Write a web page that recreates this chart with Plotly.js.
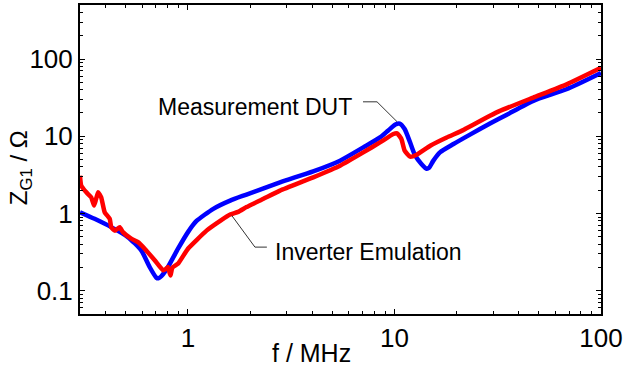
<!DOCTYPE html>
<html>
<head>
<meta charset="utf-8">
<script src="https://cdn.plot.ly/plotly-3.0.1.min.js"></script>
<style>html,body{margin:0;padding:0;background:#fff}#chart{width:626px;height:366px}</style>
</head>
<body>
<div id="chart"></div>
<script>
// Frequency (MHz) and impedance (Ohm)
const fDUT = [0.30, 0.353, 0.425, 0.512, 0.594, 0.652, 0.702, 0.72, 0.743, 0.80, 0.895, 1.0, 1.10, 1.326, 1.60, 1.92, 2.79, 4.04, 5.45, 7.06, 8.51, 9.3, 10.1, 10.6, 11.2, 11.9, 12.6, 13.5, 14.3, 14.7, 15.4, 16.6, 19.3, 23.2, 29.0, 35.0, 47.0, 68.0, 100.0];
const zDUT = [1.04, 0.854, 0.666, 0.494, 0.333, 0.203, 0.148, 0.145, 0.154, 0.203, 0.35, 0.574, 0.80, 1.15, 1.47, 1.76, 2.53, 3.51, 4.83, 7.17, 9.65, 11.8, 14.2, 14.6, 12.4, 8.32, 5.6, 4.38, 3.8, 3.9, 4.8, 6.18, 7.93, 10.5, 14.6, 19.0, 28.7, 40.6, 66.0];

const fEmu = [0.30, 0.304, 0.322, 0.340, 0.351, 0.358, 0.367, 0.380, 0.395, 0.418, 0.425, 0.442, 0.467, 0.484, 0.531, 0.573, 0.617, 0.69, 0.757, 0.78, 0.80, 0.815, 0.824, 0.835, 0.846, 0.895, 1.0, 1.23, 1.45, 1.60, 1.75, 1.92, 2.32, 2.79, 4.04, 5.45, 7.06, 8.51, 9.87, 10.3, 10.8, 11.2, 11.9, 12.8, 14.9, 17.9, 21.5, 29.0, 32.4, 47.0, 68.2, 100.0];
const zEmu = [3.09, 2.30, 1.88, 1.62, 1.27, 1.5, 1.88, 1.62, 1.04, 0.854, 0.666, 0.60, 0.666, 0.574, 0.472, 0.426, 0.35, 0.248, 0.184, 0.19, 0.203, 0.17, 0.158, 0.19, 0.203, 0.224, 0.35, 0.60, 0.82, 0.97, 1.05, 1.21, 1.55, 1.98, 2.94, 4.16, 6.18, 8.32, 10.7, 10.9, 9.2, 6.5, 5.44, 5.77, 7.54, 9.65, 12.0, 18.4, 21.3, 31.7, 47.0, 77.0];

const seriesNames = ["Measurement DUT", "Inverter Emulation"];
const xTitle = "f / MHz";
const yTitle = "Z<sub>G1</sub> / Ω";

// label anchor points (data units) and leader-line points
const labelDUT = {f: 0.70, z: 24};
const leaderDUT = {f: [7.04, 8.23, 10.3], z: [27.9, 27.9, 15.4]};
const labelEmu = {f: 2.58, z: 0.314};
const leaderEmu = {f: [1.63, 2.11, 2.41], z: [0.94, 0.367, 0.367]};

const FONT = "Liberation Sans, Arial, sans-serif";

const traces = [
  {x: fDUT, y: zDUT, mode: "lines", name: seriesNames[0], line: {color: "#0000ff", width: 4.5, shape: "spline", smoothing: 0.6}},
  {x: fEmu, y: zEmu, mode: "lines", name: seriesNames[1], line: {color: "#ff0000", width: 4.5, shape: "spline", smoothing: 0.4}}
];

function seg(a, i) {
  return {type: "line", xref: "x", yref: "y", x0: a.f[i], y0: a.z[i], x1: a.f[i+1], y1: a.z[i+1], line: {color: "#333333", width: 1}};
}

const axisCommon = {
  type: "log", showline: true, linecolor: "#000", linewidth: 2, mirror: "allticks",
  ticks: "inside", ticklen: 5, tickwidth: 1, tickcolor: "#000", showgrid: false, zeroline: false,
  dtick: 1, tickfont: {family: FONT, size: 26, color: "#000"},
  minor: {ticks: "inside", ticklen: 3, tickwidth: 1, tickcolor: "#000", showgrid: false}
};

const layout = {
  width: 626, height: 366,
  margin: {l: 80, r: 25, t: 5, b: 52},
  paper_bgcolor: "#fff", plot_bgcolor: "#fff",
  showlegend: false,
  xaxis: Object.assign({}, axisCommon, {range: [Math.log10(0.3), 2]}),
  yaxis: Object.assign({}, axisCommon, {range: [Math.log10(0.05), Math.log10(500)]}),
  shapes: [seg(leaderDUT, 0), seg(leaderDUT, 1), seg(leaderEmu, 0), seg(leaderEmu, 1)],
  annotations: [
    {xref: "x", yref: "y", x: Math.log10(labelDUT.f), y: Math.log10(labelDUT.z), text: seriesNames[0], showarrow: false, xanchor: "left", yanchor: "middle", font: {family: FONT, size: 23, color: "#000"}},
    {xref: "x", yref: "y", x: Math.log10(labelEmu.f), y: Math.log10(labelEmu.z), text: seriesNames[1], showarrow: false, xanchor: "left", yanchor: "middle", font: {family: FONT, size: 23, color: "#000"}},
    {xref: "paper", yref: "paper", x: 0.445, y: -0.125, text: xTitle, showarrow: false, xanchor: "center", yanchor: "middle", font: {family: FONT, size: 25, color: "#000"}},
    {xref: "paper", yref: "paper", x: -0.115, y: 0.472, text: yTitle, showarrow: false, textangle: -90, xanchor: "center", yanchor: "middle", font: {family: FONT, size: 24, color: "#000"}}
  ]
};

Plotly.newPlot("chart", traces, layout, {displayModeBar: false, staticPlot: true});
</script>
</body>
</html>
